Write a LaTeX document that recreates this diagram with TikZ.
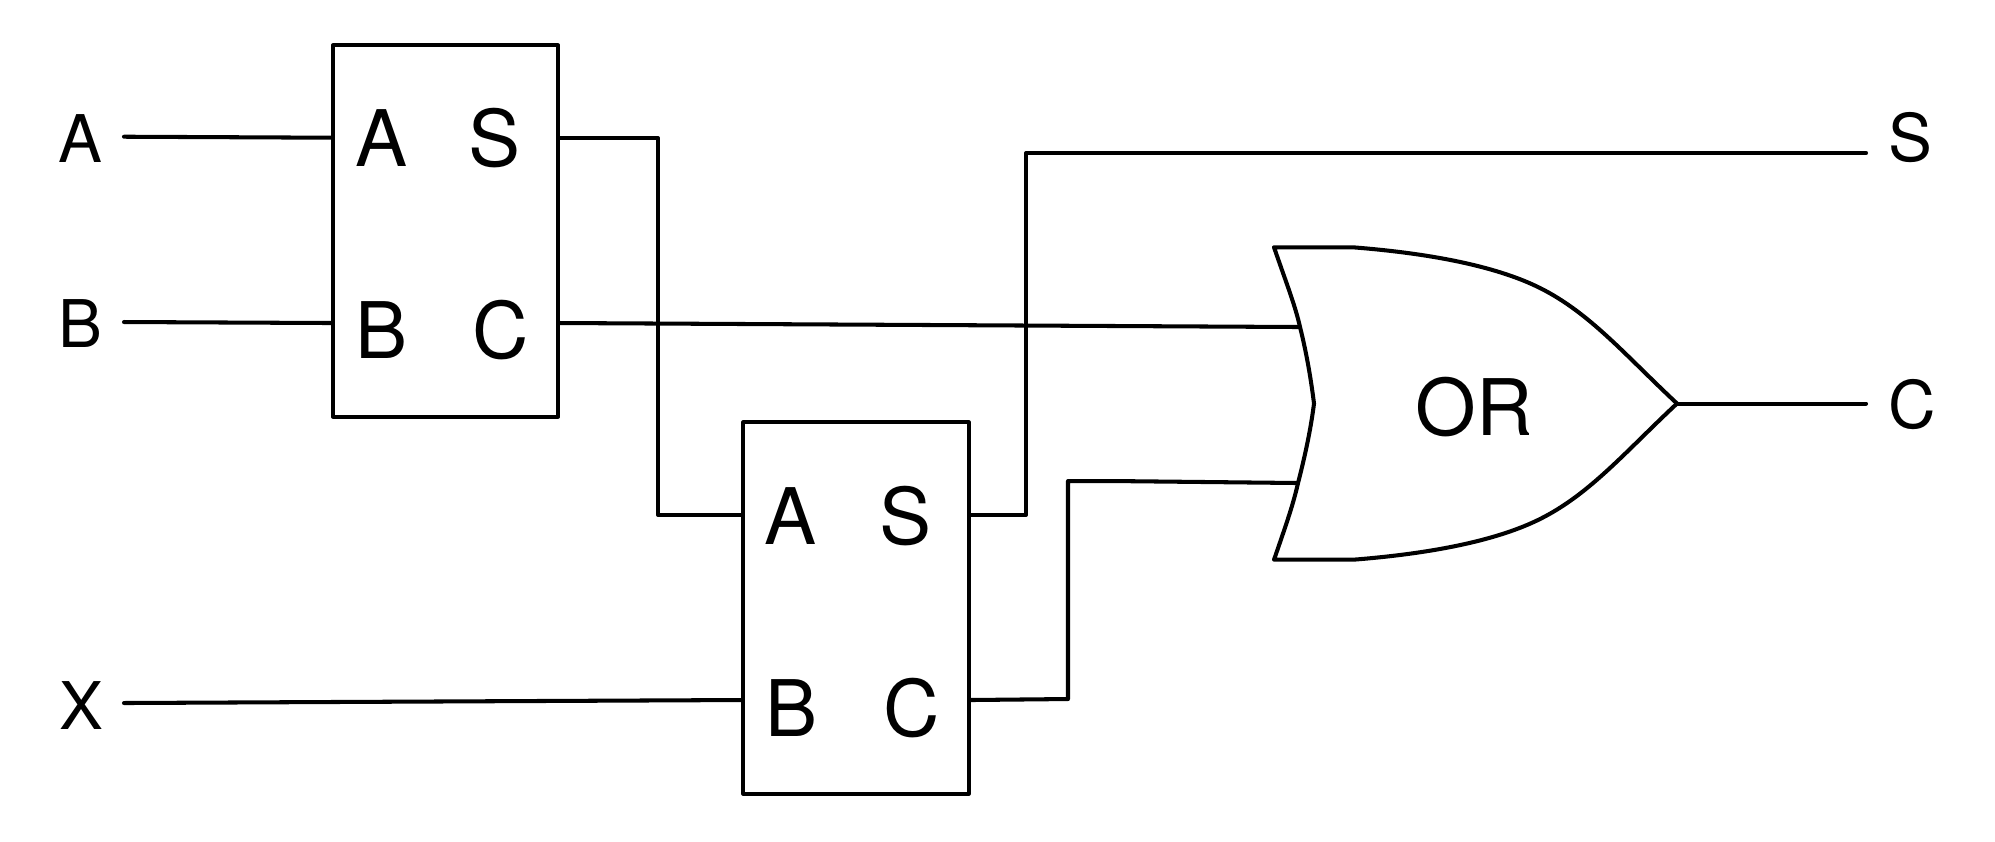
\documentclass[tikz,border=0pt]{standalone}
\usepackage{fontspec}
\setmainfont{TeX Gyre Heros}
\tikzset{
    wire/.style={line width=1.15pt, line cap=round, line join=round},
    adderbox/.style={draw, line width=1.15pt, line join=round, minimum width=2.25cm, minimum height=3.71cm, inner sep=0},
    pinlabel/.style={inner sep=0, font=\fontsize{22.2}{0}\selectfont},
    extlabel/.style={inner sep=0, font=\fontsize{18.7}{0}\selectfont}
}
\begin{document}
\begin{tikzpicture}[x=0.01cm,y=-0.01cm]
    \useasboundingbox (0,0) rectangle (1995,841);
    %отрисовка входов и выходов
    \node[extlabel] (inA) at (80,139) {A};
    \node[extlabel] (inB) at (80,324) {B};
    \node[extlabel] (inX) at (81,706) {X};
    \node[extlabel] (outS) at (1910,138) {S};
    \node[extlabel] (outC) at (1912,405) {C};
    %отрисовка блоков
    \node[adderbox] (adderone) at (445.5,231) {};
    \node[adderbox] (addertwo) at (856,608) {};
    \node[pinlabel] (oneA) at (381.5,138.5) {A};
    \node[pinlabel] (oneS) at (495,138.5) {S};
    \node[pinlabel] (oneB) at (382,330) {B};
    \node[pinlabel] (oneC) at (501,330) {C};
    \node[pinlabel] (twoA) at (791,516.5) {A};
    \node[pinlabel] (twoS) at (906,516.5) {S};
    \node[pinlabel] (twoB) at (791.5,708) {B};
    \node[pinlabel] (twoC) at (912,708) {C};
    %отрисовка элемента OR
    \draw[wire] (1274,247.3) -- (1353,247.3)
        .. controls (1438,254) and (1500,268) .. (1540,288)
        .. controls (1590,313) and (1625,355) .. (1677,403.5)
        .. controls (1625,452) and (1590,494) .. (1540,519)
        .. controls (1500,539) and (1438,553) .. (1353,559.7)
        -- (1274,559.7)
        .. controls (1287,522) and (1293,505) .. (1298,483)
        .. controls (1306,452) and (1311,427) .. (1314,403.5)
        .. controls (1311,380) and (1307,355) .. (1300,327)
        .. controls (1295,305) and (1287,285) .. (1274,247.3);
    \node[pinlabel] (gate) at (1474,407) {OR};
    %точки подключения
    \coordinate (orup) at (1300,327);
    \coordinate (ordown) at (1298,483);
    \coordinate (ortip) at (1677,403.5);
    \coordinate (wireA) at (124,136.7);
    \coordinate (wireB) at (124,322);
    \coordinate (wireX) at (124,703);
    \coordinate (wireS) at (1866,153);
    \coordinate (wireC) at (1866,403.5);
    %отрисовка линий
    \draw[wire] (wireA) -- (adderone.west |- 0,137.7);
    \draw[wire] (wireB) -- (adderone.west |- 0,323);
    \draw[wire] (wireX) -- (addertwo.west |- 0,700);
    \draw[wire] (adderone.east |- 0,138) -- (658,138) -- (658,515) -- (addertwo.west |- 0,515);
    \draw[wire] (adderone.east |- 0,323) -- (orup);
    \draw[wire] (addertwo.east |- 0,515) -- (1026,515) -- (1026,153) -- (wireS);
    \draw[wire] (addertwo.east |- 0,700) -- (1068,699) -- (1068,481) -- (1112,481) -- (ordown);
    \draw[wire] (ortip) -- (wireC);
\end{tikzpicture}
\end{document}
